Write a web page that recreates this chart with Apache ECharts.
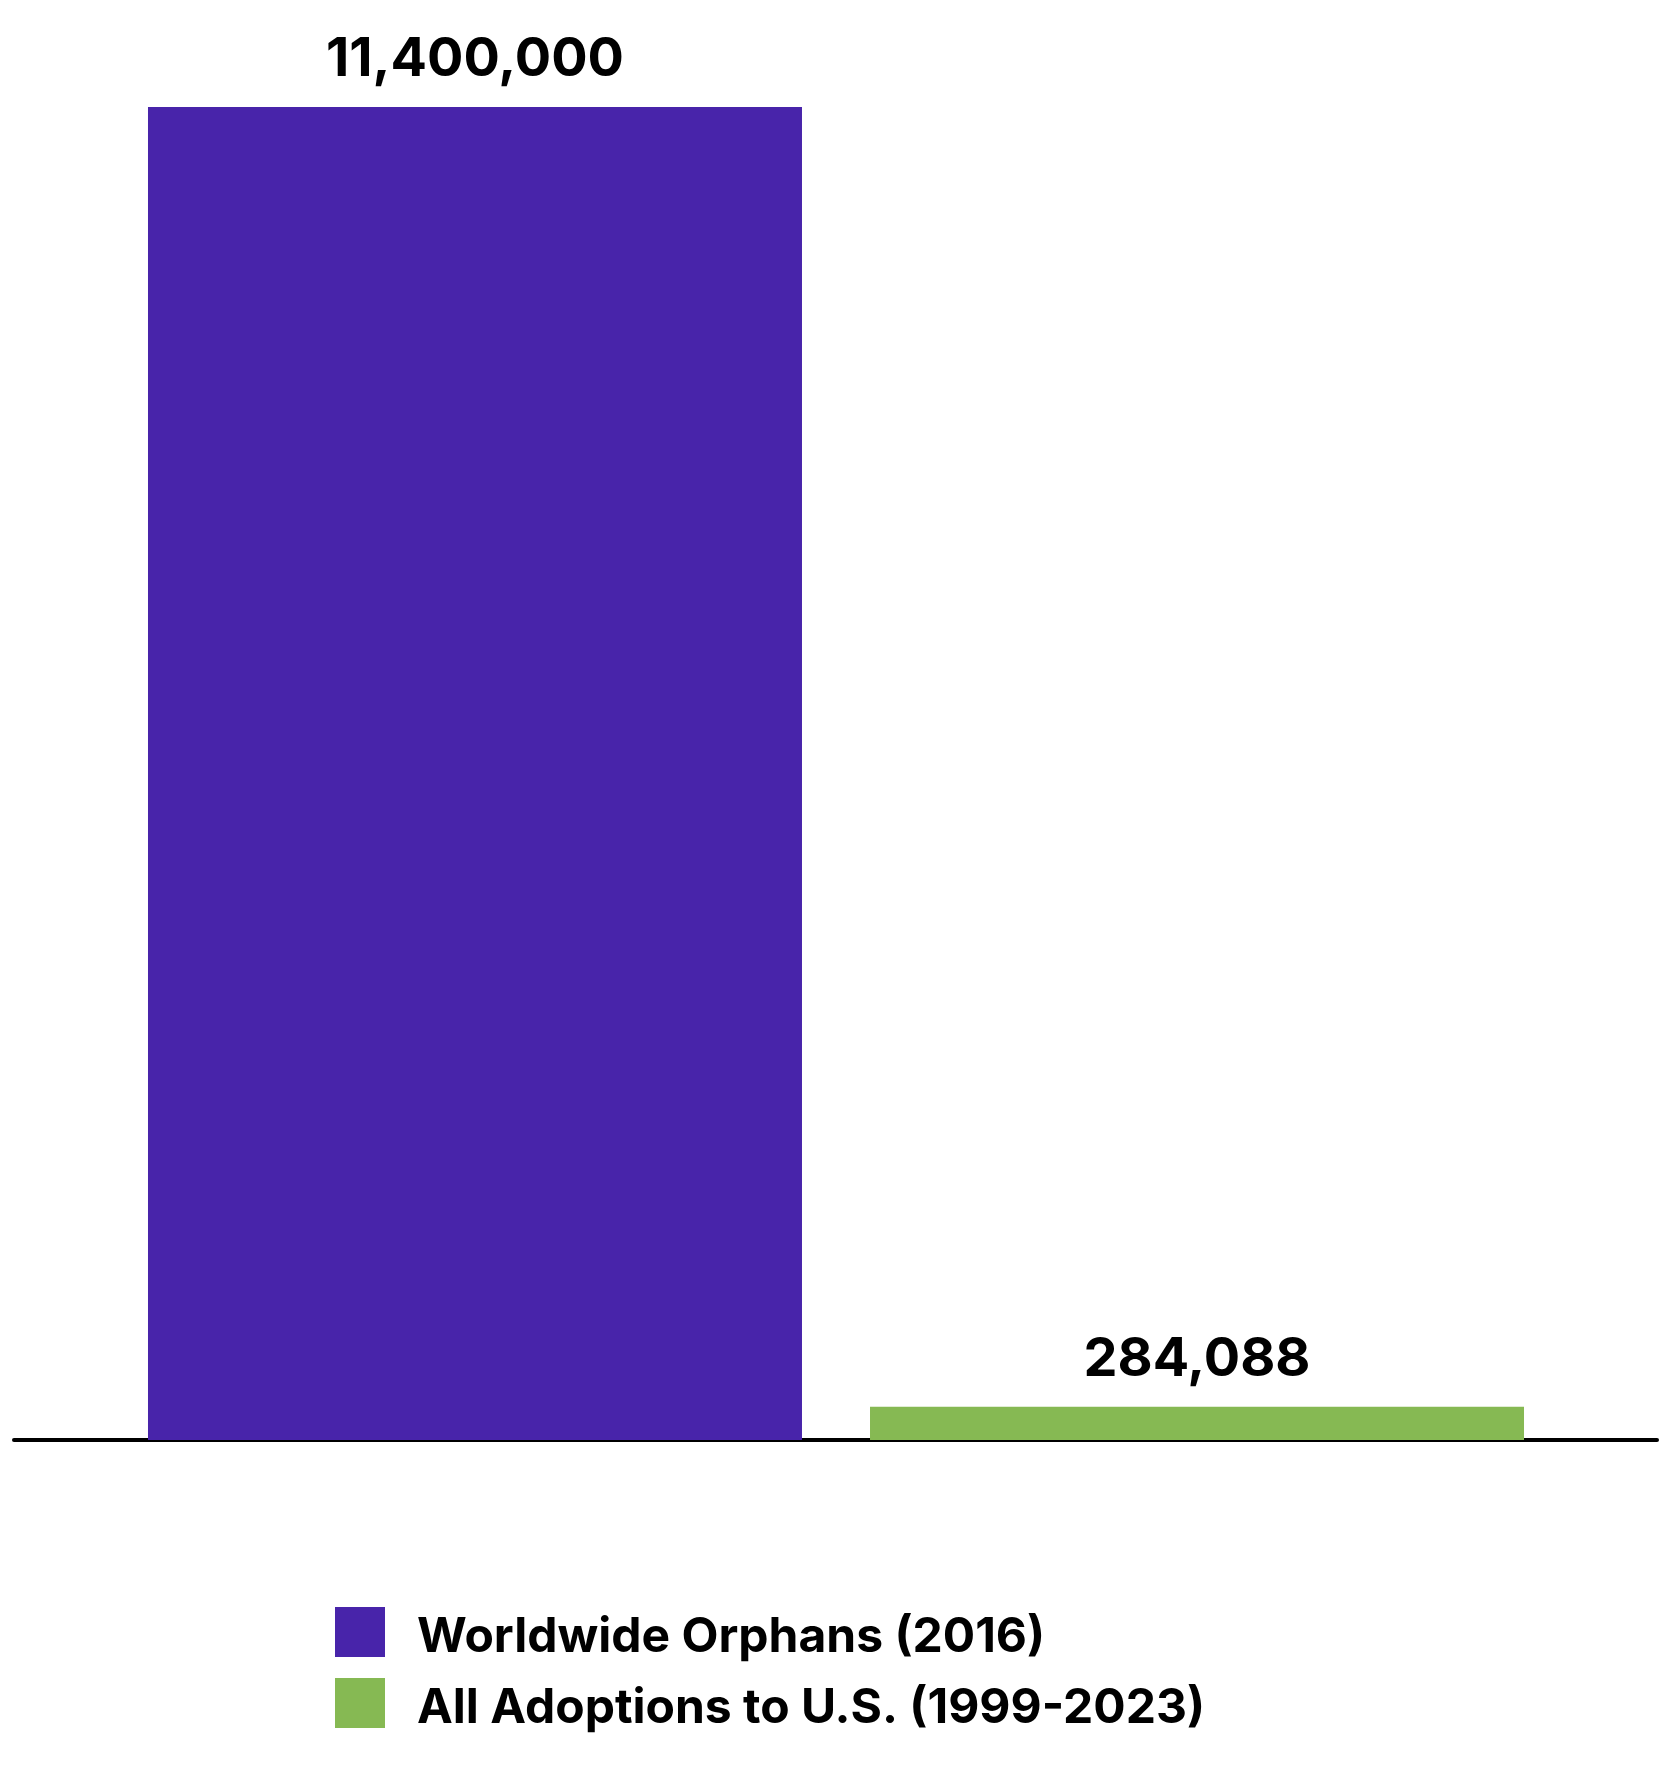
<!DOCTYPE html>
<html>
<head>
<meta charset="utf-8">
<script src="https://cdn.jsdelivr.net/npm/echarts@6/dist/echarts.min.js"></script>
<style>
  html, body { margin: 0; padding: 0; background: #ffffff; }
  #chart { width: 1677px; height: 1769px; }
</style>
</head>
<body>
<div id="chart"></div>
<script>
const categories = ['Worldwide Orphans (2016)', 'All Adoptions to U.S. (1999-2023)'];
const values = [11400000, 284088];
const colors = ['#4824AA', '#86B953'];

const chart = echarts.init(document.getElementById('chart'), null, { renderer: 'canvas' });
const FONT = 'Inter, "Noto Sans", sans-serif';

chart.setOption({
  backgroundColor: '#ffffff',
  animation: false,
  legend: {
    orient: 'vertical',
    left: 335,
    top: 1607,
    padding: 0,
    itemWidth: 50,
    itemHeight: 50,
    itemGap: 16,
    icon: 'rect',
    data: categories,
    formatter: (name) => '{t|' + name + '}',
    textStyle: {
      fontFamily: FONT, fontSize: 48, fontWeight: 700, color: '#000000', padding: [0, 0, 0, 27],
      rich: { t: { fontFamily: FONT, fontSize: 48, fontWeight: 700, color: '#000000', padding: [12, 0, 0, 0] } }
    }
  },
  grid: [
    { left: 114, right: 119, top: 107, bottom: 329 },
    { left: 14, right: 20, top: 107, bottom: 329 }
  ],
  xAxis: [
    { type: 'category', gridIndex: 0, data: ['a'], axisLine: { show: false }, axisTick: { show: false }, axisLabel: { show: false } },
    { type: 'value', gridIndex: 1, min: 0, max: 1, axisLine: { show: true, lineStyle: { color: '#000000', width: 4 } }, axisTick: { show: false }, axisLabel: { show: false }, splitLine: { show: false } }
  ],
  yAxis: [
    { type: 'value', gridIndex: 0, min: 0, max: 11400000, show: false, splitLine: { show: false } },
    { type: 'value', gridIndex: 1, min: 0, max: 1, show: false, splitLine: { show: false } }
  ],
  series: categories.map((name, i) => ({
    name: name,
    type: 'bar',
    xAxisIndex: 0,
    yAxisIndex: 0,
    barWidth: 654,
    barGap: '10.4%',
    itemStyle: { color: colors[i] },
    label: {
      show: true,
      position: 'top',
      distance: 20,
      fontFamily: FONT,
      fontSize: 54,
      fontWeight: 700,
      color: '#000000',
      formatter: (p) => p.value.toLocaleString('en-US')
    },
    data: [values[i]]
  }))
});
</script>
</body>
</html>
